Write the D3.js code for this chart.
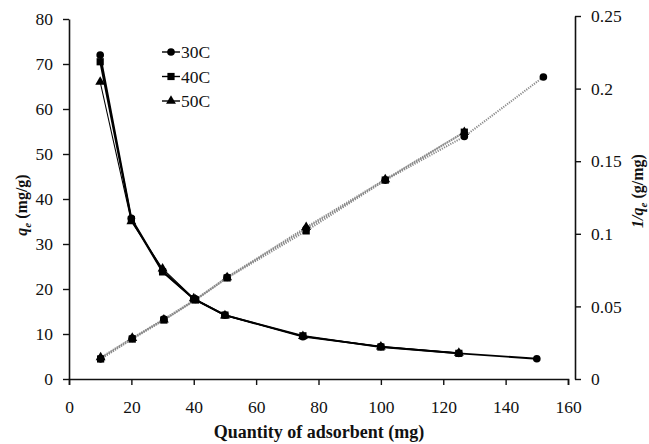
<!DOCTYPE html>
<html>
<head>
<meta charset="utf-8">
<script src="https://cdn.jsdelivr.net/npm/d3@7"></script>
<style>
  body { margin: 0; background: #fff; }
  svg text { font-family: "Liberation Serif", "Times New Roman", serif; fill: #111; }
</style>
</head>
<body>
<div id="chart"></div>
<script>
// adsorbent dose (mg)
const dose = [10, 20, 30, 40, 50, 75, 100, 125, 150];

// q_e (mg/g), left axis
const qe30 = [72, 35.7, 24.0, 17.8, 14.2, 9.4, 7.2, 5.7, 4.5];
const qe40 = [70.5, 35.4, 23.8, 17.8, 14.2, 9.6, 7.1, 5.7];
const qe50 = [66, 35.0, 24.5, 17.9, 14.1, 9.5, 7.2, 5.8];

// 1/q_e (g/mg), right axis
const inv30 = [0.0139, 0.0280, 0.0412, 0.0548, 0.0700, 0.1035, 0.1370, 0.1670, 0.2080];
const inv40 = [0.0138, 0.0275, 0.0406, 0.0544, 0.0696, 0.1020, 0.1370, 0.1700];
const inv50 = [0.0148, 0.0282, 0.0408, 0.0546, 0.0700, 0.1045, 0.1375, 0.1700];

const series = ["30C", "40C", "50C"];
const xTicks = d3.range(0, 161, 20);
const yTicks = d3.range(0, 81, 10);
const y2Ticks = [0, 0.05, 0.1, 0.15, 0.2, 0.25];

const width = 649, height = 444;

const svg = d3.select("#chart").append("svg")
  .attr("width", width)
  .attr("height", height);

// main plot
const x = d3.scaleLinear().domain([0, 160]).range([69, 568]);
const y = d3.scaleLinear().domain([0, 80]).range([379, 19]);
// overlaid secondary plot (slightly wider area)
const x2 = d3.scaleLinear().domain([0, 160]).range([69, 575]);
const y2 = d3.scaleLinear().domain([0, 0.25]).range([379, 16]);

const styleAxis = (g) => {
  g.select(".domain").attr("stroke", "#111").attr("stroke-width", 1.6);
  g.selectAll(".tick line").attr("stroke", "#111").attr("stroke-width", 1.4);
  g.selectAll(".tick text")
    .style("font-family", "'Liberation Serif', serif")
    .style("font-size", "17.5px")
    .attr("fill", "#111");
};

svg.append("g")
  .attr("transform", `translate(0,${y(0)})`)
  .call(d3.axisBottom(x).tickValues(xTicks).tickSize(6).tickSizeOuter(6).tickPadding(16))
  .call(styleAxis);

svg.append("g")
  .attr("transform", `translate(${x(0)},0)`)
  .call(d3.axisLeft(y).tickValues(yTicks).tickSize(6).tickSizeOuter(0).tickPadding(10))
  .call(styleAxis);

svg.append("g")
  .attr("transform", `translate(${x2(160)},0)`)
  .call(d3.axisRight(y2).tickValues(y2Ticks).tickSize(6).tickSizeOuter(0).tickPadding(10)
    .tickFormat(d => d === 0 ? "0" : String(+d.toFixed(2))))
  .call(styleAxis);

// symbols
const sym = {
  "30C": d3.symbol().type(d3.symbolCircle).size(46),
  "40C": d3.symbol().type(d3.symbolSquare).size(52),
  "50C": d3.symbol().type(d3.symbolTriangle).size(42),
};

const drawSeries = (vals, name, xs, ys, lineStyle) => {
  const pts = vals.map((v, i) => [dose[i], v]);
  const line = d3.line().x(d => xs(d[0])).y(d => ys(d[1]));
  const path = svg.append("path")
    .datum(pts)
    .attr("fill", "none")
    .attr("d", line);
  lineStyle(path);
  svg.append("g").selectAll("path")
    .data(pts)
    .join("path")
    .attr("transform", d => `translate(${xs(d[0])},${ys(d[1])})`)
    .attr("d", sym[name]())
    .attr("fill", "#000");
};

const solid = (w) => (p) => p.attr("stroke", "#000").attr("stroke-width", w);
const dotted = (p) => p.attr("stroke", "#8a8a8a").attr("stroke-width", 2).attr("stroke-dasharray", "1.2,1.2");

// 1/qe lines (dotted)
drawSeries(inv50, "50C", x2, y2, dotted);
drawSeries(inv30, "30C", x2, y2, dotted);
drawSeries(inv40, "40C", x2, y2, dotted);

// qe curves
drawSeries(qe50, "50C", x, y, solid(1.1));
drawSeries(qe30, "30C", x, y, solid(1.8));
drawSeries(qe40, "40C", x, y, solid(1.8));

// legend
const legend = svg.append("g").attr("transform", "translate(162,52)");
series.forEach((name, i) => {
  const row = legend.append("g").attr("transform", `translate(0,${i * 24.5})`);
  row.append("line").attr("x1", 0).attr("x2", 18).attr("stroke", "#000").attr("stroke-width", 1.4);
  row.append("path").attr("transform", "translate(9,0)").attr("d", sym[name]()).attr("fill", "#000");
  row.append("text")
    .attr("x", 19)
    .attr("dy", "0.35em")
    .style("font-size", "17.5px")
    .text(name);
});

// axis titles
svg.append("text")
  .attr("x", 319)
  .attr("y", 438)
  .attr("text-anchor", "middle")
  .style("font-size", "18px")
  .style("font-weight", "bold")
  .text("Quantity of adsorbent (mg)");

const leftTitle = svg.append("text")
  .attr("transform", "translate(27,205) rotate(-90)")
  .attr("text-anchor", "middle")
  .style("font-size", "16px")
  .style("font-weight", "bold");
leftTitle.append("tspan").style("font-style", "italic").text("q");
leftTitle.append("tspan").style("font-style", "italic").style("font-size", "11px").attr("dy", 4).text("e");
leftTitle.append("tspan").attr("dy", -4).text(" (mg/g)");

const rightTitle = svg.append("text")
  .attr("transform", "translate(643,191) rotate(-90)")
  .attr("text-anchor", "middle")
  .style("font-size", "16px")
  .style("font-weight", "bold");
rightTitle.append("tspan").style("font-style", "italic").text("1/q");
rightTitle.append("tspan").style("font-style", "italic").style("font-size", "11px").attr("dy", 4).text("e");
rightTitle.append("tspan").attr("dy", -4).text(" (g/mg)");
</script>
</body>
</html>
